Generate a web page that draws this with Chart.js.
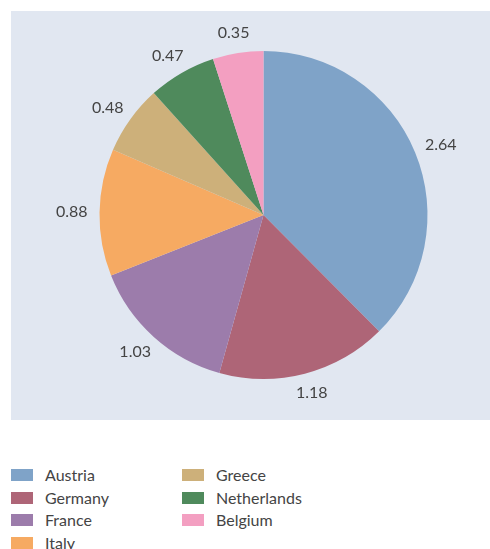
<!DOCTYPE html>
<html>
<head>
<meta charset="utf-8">
<script src="https://cdn.jsdelivr.net/npm/chart.js@4"></script>
<style>
  html, body { margin: 0; padding: 0; background: #fff; }
  body { width: 490px; height: 549px; overflow: hidden; position: relative; font-family: Lato, sans-serif; }
  #box { position: absolute; left: 11px; top: 11px; width: 479px; height: 409px; background: #e1e7f1; }
  #legend { position: absolute; left: 11px; top: 466px; }
  .item { position: absolute; height: 18px; line-height: 18px; font-size: 16px; color: #444; white-space: nowrap; }
  .sw { position: absolute; left: 0; top: 3px; width: 22px; height: 12px; }
  .lbl { position: absolute; left: 34px; top: 0; }
</style>
</head>
<body>
<div id="box"><canvas id="pie" width="479" height="409"></canvas></div>
<div id="legend"></div>
<script>
const countries = ["Austria", "Germany", "France", "Italy", "Greece", "Netherlands", "Belgium"];
const values = [2.64, 1.18, 1.03, 0.88, 0.48, 0.47, 0.35];
const colours = ["#7fa3c8", "#ae6577", "#9c7cab", "#f6aa62", "#cdb07a", "#4f8a5c", "#f39fc1"];

// value labels outside the slices, box pushed outward from an anchor point
const outsideLabels = {
    id: "outsideLabels",
    afterDraw: function(chart) {
        const ctx = chart.ctx;
        const arcs = chart.getDatasetMeta(0).data;
        ctx.save();
        ctx.font = "16px Lato";
        ctx.fillStyle = "#444";
        ctx.textAlign = "center";
        ctx.textBaseline = "middle";
        for (let i = 0; i < arcs.length; i++) {
            const a = arcs[i];
            const mid = (a.startAngle + a.endAngle) / 2;
            const dx = Math.cos(mid), dy = Math.sin(mid);
            const r = a.outerRadius + 12;
            const txt = values[i].toFixed(2);
            const w = ctx.measureText(txt).width;
            ctx.fillText(txt, a.x + dx * r + dx * w / 2, a.y + dy * r + dy * 8);
        }
        ctx.restore();
    }
};

new Chart(document.getElementById("pie"), {
    type: "pie",
    data: {
        labels: countries,
        datasets: [{
            data: values,
            backgroundColor: colours,
            borderWidth: 0,
            hoverOffset: 0,
            offset: 0
        }]
    },
    options: {
        responsive: false,
        animation: false,
        events: [],
        layout: { padding: { left: 26, right: 0, top: 40, bottom: 41 } },
        plugins: { legend: { display: false }, tooltip: { enabled: false } }
    },
    plugins: [outsideLabels]
});

const legend = document.getElementById("legend");
for (let i = 0; i < countries.length; i++) {
    const col = Math.floor(i / 4);
    const row = i % 4;
    const item = document.createElement("div");
    item.className = "item";
    item.style.left = (col * 171) + "px";
    item.style.top = (row * 22.6) + "px";
    item.innerHTML = '<span class="sw" style="background:' + colours[i] + '"></span><span class="lbl">' + countries[i] + '</span>';
    legend.appendChild(item);
}
</script>
</body>
</html>
